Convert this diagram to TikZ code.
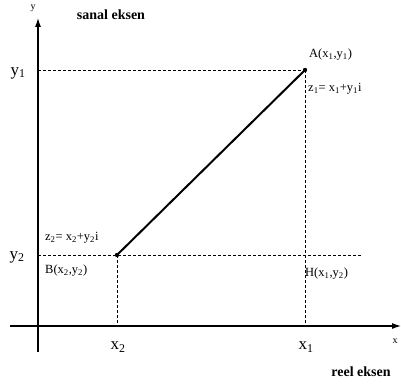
\documentclass[tikz,border=0pt]{standalone}
\usepackage{fontspec}
\setmainfont{Liberation Serif}
\usetikzlibrary{arrows.meta}
\begin{document}
\begin{tikzpicture}[x=1pt,y=-1pt,
  axis/.style={line width=1.1pt,-{Latex[length=9pt,width=6pt]}},
  guide/.style={line width=0.7pt,dash pattern=on 3pt off 2pt},
  seg/.style={line width=2pt},
  lbl/.style={font=\fontsize{12.5}{14}\selectfont,inner sep=0pt},
  sml/.style={font=\fontsize{10}{12}\selectfont,inner sep=0pt},
  big/.style={font=\fontsize{17}{19}\selectfont,inner sep=0pt},
  ttl/.style={font=\bfseries\fontsize{14}{16}\selectfont,inner sep=0pt}]
\useasboundingbox (0,0) rectangle (401,385);
% axes
\coordinate (ys) at (38,352);
\coordinate (ye) at (38,18);
\coordinate (xs) at (10,326);
\coordinate (xe) at (401,326);
\draw[axis] (ys) -- (ye);
\draw[axis] (xs) -- (xe);
% points
\coordinate (A) at (305,70);
\coordinate (B) at (117,255);
\coordinate (Ay) at (38,70);
\coordinate (Ax) at (305,326);
\coordinate (By) at (38,255);
\coordinate (Bx) at (117,326);
\coordinate (Be) at (362,255);
\draw[guide] (Ay) -- (A);
\draw[guide] (A) -- (Ax);
\draw[guide] (By) -- (Be);
\draw[guide] (B) -- (Bx);
\draw[seg] (B) -- (A);
\fill (A) circle (2.2pt);
\fill (B) circle (2.2pt);
% labels
\node[sml] (ylab) at (33,8) {y};
\node[ttl] (san) at (111,15) {sanal eksen};
\node[ttl] (reel) at (361,372) {reel eksen};
\node[sml] (xlab) at (395,341) {x};
\node[big] (y1) at (18,73) {y\textsubscript{1}};
\node[big] (y2) at (17,257) {y\textsubscript{2}};
\node[big] (x2) at (118,347) {x\textsubscript{2}};
\node[big] (x1) at (306,347) {x\textsubscript{1}};
\node[lbl,anchor=west] (Al) at (309,55) {A(x\textsubscript{1},y\textsubscript{1})};
\node[lbl,anchor=west] (z1) at (308,89) {z\textsubscript{1}= x\textsubscript{1}+y\textsubscript{1}i};
\node[lbl,anchor=west] (z2) at (45,238) {z\textsubscript{2}= x\textsubscript{2}+y\textsubscript{2}i};
\node[lbl,anchor=west] (Bl) at (45,271) {B(x\textsubscript{2},y\textsubscript{2})};
\node[lbl,anchor=west] (Hl) at (305,274) {H(x\textsubscript{1},y\textsubscript{2})};
\end{tikzpicture}
\end{document}
